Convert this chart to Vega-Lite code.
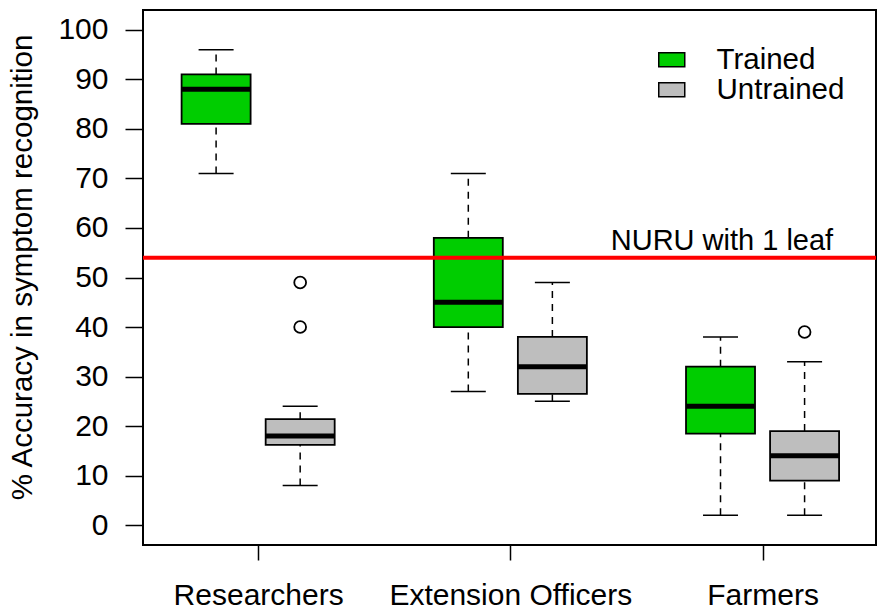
{
  "$schema": "https://vega.github.io/schema/vega-lite/v6.json",
  "width": 733,
  "height": 535,
  "autosize": {"type": "none"},
  "padding": {"left": 143, "top": 10, "right": 1, "bottom": 65},
  "background": "white",
  "config": {
    "font": "Liberation Sans",
    "view": {"stroke": "black", "strokeWidth": 2},
    "axis": {"labelFont": "Liberation Sans", "titleFont": "Liberation Sans", "labelColor": "black", "titleColor": "black", "tickColor": "black", "domainColor": "black", "grid": false}
  },
  "datasets": {
    "boxes": [
      {"pos": 1, "group": "Trained", "min": 71, "q1": 81, "median": 88, "q3": 91, "max": 96},
      {"pos": 2, "group": "Untrained", "min": 8, "q1": 16.2, "median": 18, "q3": 21.4, "max": 24},
      {"pos": 4, "group": "Trained", "min": 27, "q1": 40, "median": 45, "q3": 58, "max": 71},
      {"pos": 5, "group": "Untrained", "min": 25, "q1": 26.5, "median": 32, "q3": 38, "max": 49},
      {"pos": 7, "group": "Trained", "min": 2, "q1": 18.5, "median": 24, "q3": 32, "max": 38},
      {"pos": 8, "group": "Untrained", "min": 2, "q1": 9, "median": 14, "q3": 19, "max": 33}
    ],
    "outliers": [
      {"pos": 2, "value": 49},
      {"pos": 2, "value": 40},
      {"pos": 8, "value": 39}
    ],
    "ref": [
      {"y": 54, "x": 8.34, "label": "NURU with 1 leaf"}
    ]
  },
  "layer": [
    {
      "data": {"name": "boxes"},
      "mark": {"type": "rule", "strokeDash": [7, 6], "strokeWidth": 1.5, "color": "black"},
      "encoding": {
        "x": {"field": "pos", "type": "quantitative", "scale": {"domain": [0.19, 8.79], "nice": false, "zero": false},
          "axis": {"values": [1.5, 4.5, 7.5], "labelExpr": "datum.value == 1.5 ? 'Researchers' : datum.value == 4.5 ? 'Extension Officers' : 'Farmers'", "title": null, "labelFontSize": 30, "labelLimit": 0, "tickSize": 15, "tickWidth": 1.5, "labelPadding": 20, "domain": false}},
        "y": {"field": "q3", "type": "quantitative", "scale": {"domain": [-4, 104], "nice": false, "zero": false},
          "axis": {"values": [0, 10, 20, 30, 40, 50, 60, 70, 80, 90, 100], "title": "% Accuracy in symptom recognition", "titleFontSize": 29.5, "titleFontWeight": "normal", "titleY": 257, "labelFontSize": 30, "tickSize": 18, "tickWidth": 1.5, "labelPadding": 17, "domain": false, "titlePadding": 20}},
        "y2": {"field": "max"}
      }
    },
    {
      "data": {"name": "boxes"},
      "mark": {"type": "rule", "strokeDash": [7, 6], "strokeWidth": 1.5, "color": "black"},
      "encoding": {
        "x": {"field": "pos", "type": "quantitative"},
        "y": {"field": "min", "type": "quantitative"},
        "y2": {"field": "q1"}
      }
    },
    {
      "data": {"name": "boxes"},
      "mark": {"type": "tick", "orient": "horizontal", "size": 35, "thickness": 1.5, "color": "black", "opacity": 1},
      "encoding": {
        "x": {"field": "pos", "type": "quantitative"},
        "y": {"field": "max", "type": "quantitative"}
      }
    },
    {
      "data": {"name": "boxes"},
      "mark": {"type": "tick", "orient": "horizontal", "size": 35, "thickness": 1.5, "color": "black", "opacity": 1},
      "encoding": {
        "x": {"field": "pos", "type": "quantitative"},
        "y": {"field": "min", "type": "quantitative"}
      }
    },
    {
      "data": {"name": "boxes"},
      "mark": {"type": "bar", "width": 69, "stroke": "black", "strokeWidth": 1.8, "opacity": 1},
      "encoding": {
        "x": {"field": "pos", "type": "quantitative"},
        "y": {"field": "q1", "type": "quantitative"},
        "y2": {"field": "q3"},
        "fill": {"field": "group", "type": "nominal",
          "scale": {"domain": ["Trained", "Untrained"], "range": ["#00CD00", "#BEBEBE"]},
          "legend": {"title": null, "orient": "none", "legendX": 514, "legendY": 35, "padding": 0,
            "symbolType": "M-1,-0.54L1,-0.54L1,0.54L-1,0.54Z", "symbolSize": 676, "symbolStrokeColor": "black", "symbolStrokeWidth": 1.5, "symbolOpacity": 1,
            "labelFontSize": 29.5, "labelColor": "black", "labelFont": "Liberation Sans", "labelOffset": 30, "rowPadding": -4}}
      }
    },
    {
      "data": {"name": "boxes"},
      "mark": {"type": "tick", "orient": "horizontal", "size": 69, "thickness": 5, "color": "black", "opacity": 1},
      "encoding": {
        "x": {"field": "pos", "type": "quantitative"},
        "y": {"field": "median", "type": "quantitative"}
      }
    },
    {
      "data": {"name": "outliers"},
      "mark": {"type": "point", "shape": "circle", "size": 140, "filled": false, "stroke": "black", "strokeWidth": 1.8, "opacity": 1},
      "encoding": {
        "x": {"field": "pos", "type": "quantitative"},
        "y": {"field": "value", "type": "quantitative"}
      }
    },
    {
      "data": {"name": "ref"},
      "mark": {"type": "rule", "color": "#FF0000", "strokeWidth": 4},
      "encoding": {
        "y": {"field": "y", "type": "quantitative"}
      }
    },
    {
      "data": {"name": "ref"},
      "mark": {"type": "text", "align": "right", "baseline": "alphabetic", "dy": -8, "fontSize": 29, "font": "Liberation Sans", "color": "black"},
      "encoding": {
        "x": {"field": "x", "type": "quantitative"},
        "y": {"field": "y", "type": "quantitative"},
        "text": {"field": "label"}
      }
    }
  ]
}
